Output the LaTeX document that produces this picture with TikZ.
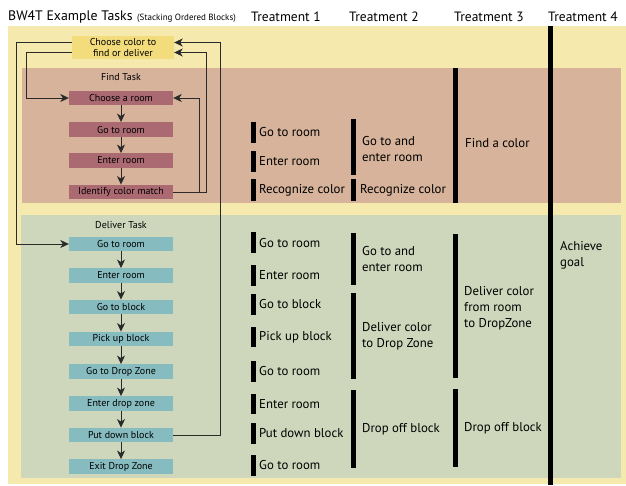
\documentclass[tikz,border=0pt]{standalone}
\usepackage{fontspec}
\setmainfont{PT Sans}
\usetikzlibrary{arrows.meta}
\definecolor{bgyellow}{HTML}{F6E9AE}
\definecolor{topyellow}{HTML}{F2DC7C}
\definecolor{findbg}{HTML}{D6B39A}
\definecolor{findbox}{HTML}{AB6A72}
\definecolor{delbg}{HTML}{CED6BC}
\definecolor{delbox}{HTML}{86BBBF}
\definecolor{linecol}{HTML}{2A2A2A}
\begin{document}
\begin{tikzpicture}[x=1pt,y=-1pt,
  taskbox/.style={minimum width=104pt, minimum height=14.5pt, inner sep=0pt, font=\fontsize{10}{12}\selectfont},
  fbox/.style={taskbox, fill=findbox},
  dbox/.style={taskbox, fill=delbox},
  flow/.style={draw=linecol, line width=0.8pt, -{Stealth[length=8.5pt,width=8pt,inset=2.5pt]}},
  lbl/.style={anchor=west, inner sep=0pt, font=\fontsize{12.8}{16}\selectfont, align=left},
  head/.style={inner sep=0pt, font=\fontsize{13.5}{16}\selectfont},
  barfill/.style={fill=black}
]
\useasboundingbox (0,0) rectangle (626,485);
\fill[white] (0,0) rectangle (626,485);
% backgrounds
\fill[bgyellow] (8,26) rectangle (626,484);
\fill[findbg] (22,68) rectangle (621,203);
\fill[delbg] (21,215) rectangle (621,478);
% titles
\node[anchor=west, inner sep=0pt, font=\fontsize{13.8}{16}\selectfont] (title) at (8,17) {BW4T Example Tasks};
\node[anchor=west, inner sep=0pt, font=\fontsize{9}{10}\selectfont] (subtitle) at (137,18) {(Stacking Ordered Blocks)};
\node[head] (t1) at (286,17) {Treatment 1};
\node[head] (t2) at (384,17) {Treatment 2};
\node[head] (t3) at (489,17) {Treatment 3};
\node[head] (t4) at (583,17) {Treatment 4};
% flow chart
\node[fill=topyellow, minimum width=102pt, minimum height=23pt, inner sep=0pt, align=center, font=\fontsize{10}{11.5}\selectfont] (cc) at (123,47.5) {Choose color to\\find or deliver};
\node[inner sep=0pt, font=\fontsize{10}{12}\selectfont] (findlbl) at (121,77) {Find Task};
\node[fbox] (r1) at (121,98) {Choose a room};
\node[fbox] (r2) at (121,129.5) {Go to room};
\node[fbox] (r3) at (121,160.5) {Enter room};
\node[fbox] (r4) at (121,192) {Identify color match};
\node[inner sep=0pt, font=\fontsize{10}{12}\selectfont] (dellbl) at (121,225) {Deliver Task};
\node[dbox] (g1) at (121,244) {Go to room};
\node[dbox] (g2) at (121,275.5) {Enter room};
\node[dbox] (g3) at (121,307) {Go to block};
\node[dbox] (g4) at (121,339) {Pick up block};
\node[dbox] (g5) at (121,371.5) {Go to Drop Zone};
\node[dbox] (g6) at (121,403.5) {Enter drop zone};
\node[dbox] (g7) at (121,435) {Put down block};
\node[dbox] (g8) at (121,466.5) {Exit Drop Zone};
\foreach \a/\b in {r1/r2,r2/r3,r3/r4,g1/g2,g2/g3,g3/g4,g4/g5,g5/g6,g6/g7,g7/g8}
  \draw[flow] (\a) -- (\b);
\draw[flow] ([yshift=5pt]cc.west) -- ++(-55,0) |- (g1.west);
\draw[flow] ([yshift=-5pt]cc.west) -- ++(-45,0) |- (r1.west);
\draw[flow] (r4.east) -- ++(26,0) |- (r1.east);
\draw[flow] (r4.east) -- ++(33,0) |- ([yshift=-5pt]cc.east);
\draw[flow] (g7.east) -- ++(47,0) |- ([yshift=5pt]cc.east);
% treatment 4 line
\fill[black] (548,26) rectangle (553,485);
% treatment 1 bars
\foreach \ya/\yb in {122/143,151/172,179/201,232/253,265/286,294/315,327/347,361/382,394/414,423/444,455/476}
  \fill[barfill] (251,\ya) rectangle (256,\yb);
% treatment 2 bars
\foreach \ya/\yb in {119/175,179/201,233/285,293/379,390/468}
  \fill[barfill] (351,\ya) rectangle (356,\yb);
% treatment 3 bars
\foreach \ya/\yb in {68/203,234/378,389/467}
  \fill[barfill] (453,\ya) rectangle (458,\yb);
% treatment 1 texts
\node[lbl] (a1) at (259,132) {Go to room};
\node[lbl] (a2) at (259,161) {Enter room};
\node[lbl] (a3) at (259,190) {Recognize color};
\node[lbl] (a4) at (259,243) {Go to room};
\node[lbl] (a5) at (259,275) {Enter room};
\node[lbl] (a6) at (259,304) {Go to block};
\node[lbl] (a7) at (259,337) {Pick up block};
\node[lbl] (a8) at (259,371) {Go to room};
\node[lbl] (a9) at (259,404) {Enter room};
\node[lbl] (a10) at (259,433) {Put down block};
\node[lbl] (a11) at (259,465) {Go to room};
% treatment 2 texts
\node[lbl] (b1) at (362,149) {Go to and\\enter room};
\node[lbl] (b2) at (360,190) {Recognize color};
\node[lbl] (b3) at (362,259) {Go to and\\enter room};
\node[lbl] (b4) at (362,336) {Deliver color\\to Drop Zone};
\node[lbl] (b5) at (362,429) {Drop off block};
% treatment 3 texts
\node[lbl] (c1) at (465,143) {Find a color};
\node[lbl] (c2) at (464,308) {Deliver color\\from room\\to DropZone};
\node[lbl] (c3) at (464,428) {Drop off block};
% treatment 4 text
\node[lbl] (d1) at (560,255.5) {Achieve\\goal};
\end{tikzpicture}
\end{document}
